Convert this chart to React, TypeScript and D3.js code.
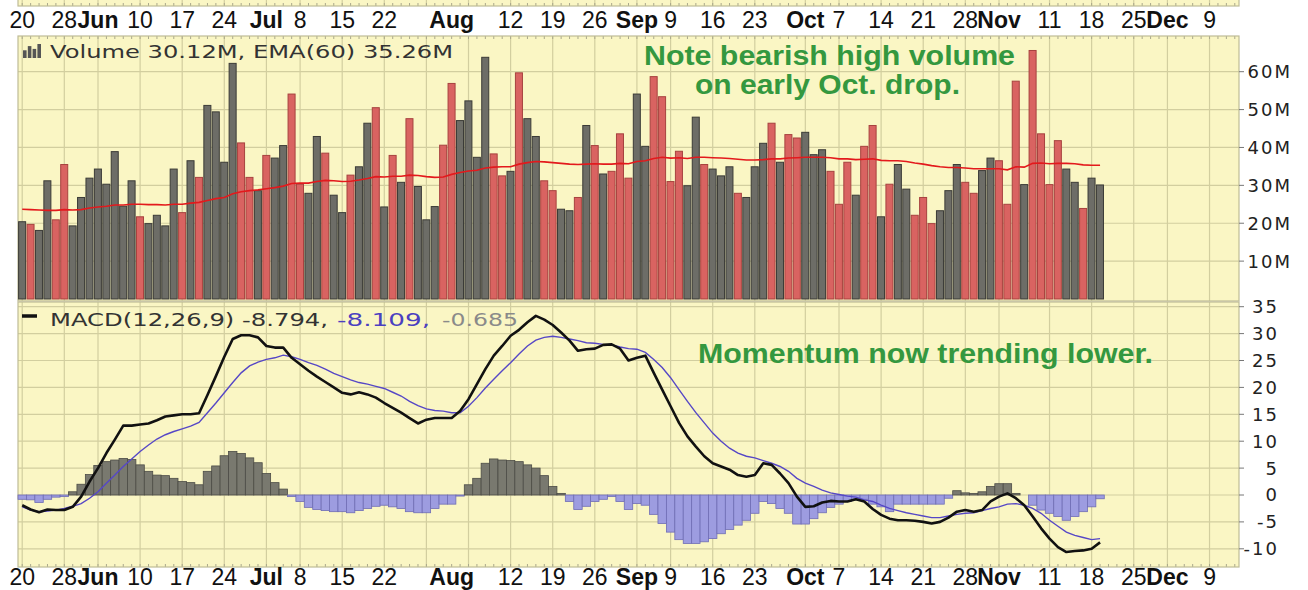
import React, { useEffect, useRef } from 'react';
import * as d3 from 'd3';

// trading calendar (categories)
const firstDay = '2013-05-20';
const lastAxisDay = '2013-12-12';
const holidays = ['2013-05-27', '2013-07-04', '2013-09-02', '2013-11-28'];

// date axis labels
const tickDates = [
  '2013-05-20', '2013-05-28', '2013-06-03', '2013-06-10', '2013-06-17', '2013-06-24',
  '2013-07-01', '2013-07-08', '2013-07-15', '2013-07-22', '2013-08-01', '2013-08-12',
  '2013-08-19', '2013-08-26', '2013-09-03', '2013-09-09', '2013-09-16', '2013-09-23',
  '2013-10-01', '2013-10-07', '2013-10-14', '2013-10-21', '2013-10-28', '2013-11-01',
  '2013-11-11', '2013-11-18', '2013-11-25', '2013-12-02', '2013-12-09'
];
const tickLabels = [
  '20', '28', 'Jun', '10', '17', '24', 'Jul', '8', '15', '22', 'Aug', '12', '19', '26',
  'Sep', '9', '16', '23', 'Oct', '7', '14', '21', '28', 'Nov', '11', '18', '25', 'Dec', '9'
];
const monthLabels = ['Jun', 'Jul', 'Aug', 'Sep', 'Oct', 'Nov', 'Dec'];
const extraGridDates = ['2013-07-29', '2013-08-05'];

// volume, millions
const volume = [
  20.4, 19.7, 18.1, 31.2, 20.9, 35.5, 19.3, 26.8, 31.9, 34.3,
  30.3, 38.9, 24.5, 31.2, 21.7, 19.9, 22.1, 19.3, 34.3, 22.8,
  36.5, 32.1, 51.1, 49.4, 36.1, 62.2, 41.2, 32.1, 28.6, 37.9,
  37.2, 40.5, 54.1, 30.3, 27.9, 42.9, 38.5, 27.4, 22.8, 32.7,
  34.9, 46.4, 50.5, 24.3, 37.9, 30.8, 47.6, 29.7, 20.9, 24.4,
  40.6, 56.9, 47.1, 52.3, 37.4, 63.8, 38.3, 32.5, 33.7, 59.7,
  47.6, 42.9, 31.2, 28.6, 23.7, 23.3, 26.8, 45.8, 40.5, 33.0,
  33.7, 43.6, 31.9, 54.1, 40.3, 58.7, 53.4, 31.0, 39.0, 29.9,
  48.0, 35.5, 34.3, 32.5, 34.9, 27.9, 26.8, 34.9, 41.1, 46.4,
  36.1, 43.4, 42.5, 44.0, 38.1, 39.4, 33.7, 25.0, 36.1, 27.4,
  40.3, 45.8, 21.7, 30.3, 35.5, 29.0, 22.1, 26.8, 19.9, 23.3,
  28.6, 35.5, 30.8, 27.9, 33.9, 37.2, 36.5, 25.0, 57.5, 30.2,
  65.6, 43.6, 30.2, 41.8, 34.3, 30.8, 23.9, 31.9, 30.1
];
// 1 = down day (red bar), 0 = up day (grey bar)
const volumeDown = [
  0, 1, 0, 0, 1, 1, 0, 0, 0, 0,
  0, 0, 0, 0, 1, 0, 0, 0, 0, 1,
  0, 1, 0, 0, 0, 0, 1, 1, 0, 1,
  0, 0, 1, 1, 0, 0, 1, 0, 0, 1,
  0, 0, 1, 0, 1, 0, 1, 0, 0, 0,
  1, 1, 0, 0, 0, 0, 1, 1, 0, 1,
  0, 0, 1, 1, 0, 0, 1, 0, 1, 0,
  1, 1, 1, 0, 0, 1, 1, 1, 1, 0,
  0, 1, 0, 0, 0, 1, 0, 0, 0, 1,
  0, 1, 1, 0, 0, 0, 1, 1, 1, 0,
  1, 1, 0, 1, 0, 0, 1, 1, 1, 0,
  0, 0, 1, 1, 0, 0, 1, 1, 1, 0,
  1, 1, 1, 1, 0, 0, 1, 0, 0
];
const volumeEma = [
  23.7, 23.6, 23.5, 23.4, 23.4, 23.6, 23.5, 23.6, 24.0, 24.3,
  24.5, 24.8, 24.8, 25.0, 25.0, 24.9, 24.9, 24.8, 25.0, 25.0,
  25.3, 25.5, 26.0, 26.5, 26.8, 27.8, 28.3, 28.6, 28.8, 29.1,
  29.4, 29.8, 30.5, 30.6, 30.6, 31.0, 31.3, 31.2, 31.0, 31.1,
  31.4, 31.8, 32.3, 32.2, 32.4, 32.4, 32.7, 32.6, 32.3, 32.1,
  32.2, 32.9, 33.4, 33.8, 34.0, 34.6, 34.8, 34.9, 34.9, 35.6,
  36.0, 36.3, 36.2, 36.0, 35.8, 35.6, 35.5, 35.6, 35.7, 35.6,
  35.6, 35.8, 35.7, 36.3, 36.5, 37.1, 37.4, 37.2, 37.3, 37.1,
  37.4, 37.4, 37.3, 37.2, 37.1, 36.9, 36.7, 36.7, 36.8, 37.0,
  37.0, 37.2, 37.3, 37.4, 37.4, 37.4, 37.3, 37.0, 37.0, 36.8,
  36.9, 37.0, 36.6, 36.5, 36.5, 36.3, 35.9, 35.6, 35.2, 34.9,
  34.7, 34.7, 34.6, 34.4, 34.4, 34.4, 34.4, 34.1, 34.9, 34.8,
  35.8, 35.9, 35.7, 35.8, 35.8, 35.7, 35.4, 35.3, 35.3
];

// MACD(12,26,9)
const macdLine = [
  -1.9, -2.7, -3.2, -2.7, -2.8, -2.8, -2.2, -0.3, 2.5, 5.0,
  7.8, 10.3, 12.9, 12.9, 13.1, 13.3, 13.9, 14.6, 14.8, 15.0,
  15.0, 15.2, 18.6, 22.1, 25.7, 29.0, 29.7, 29.7, 29.3, 27.7,
  27.4, 27.4, 25.5, 24.3, 23.1, 22.0, 21.0, 20.0, 19.0, 18.7,
  19.1, 18.7, 18.1, 17.1, 16.2, 15.3, 14.3, 13.3, 14.0, 14.3,
  14.3, 14.3, 15.6, 17.8, 20.6, 23.4, 25.9, 27.7, 29.6, 30.7,
  32.1, 33.3, 32.6, 31.6, 30.2, 28.7, 26.8, 27.1, 27.2, 27.9,
  28.0, 27.2, 25.0, 25.5, 25.9, 22.7, 19.6, 16.5, 13.4, 10.9,
  9.0, 7.2, 5.9, 5.3, 4.7, 3.7, 3.4, 3.7, 5.9, 5.6,
  4.0, 2.2, -0.3, -2.2, -2.1, -1.4, -1.1, -1.2, -1.2, -0.8,
  -1.2, -2.6, -3.7, -4.4, -4.7, -4.7, -4.8, -5.0, -5.3, -5.0,
  -4.2, -3.1, -2.8, -3.1, -2.8, -1.2, -0.3, 0.3, -0.6, -1.9,
  -4.0, -6.2, -8.1, -9.7, -10.6, -10.4, -10.3, -10.0, -8.8
];
const signalLine = [
  -2.2, -2.8, -3.1, -3.0, -2.8, -2.5, -2.1, -1.6, -0.6, 0.6,
  2.2, 3.7, 5.3, 6.7, 8.1, 9.3, 10.4, 11.2, 11.8, 12.3,
  12.8, 13.5, 15.3, 17.1, 19.0, 20.9, 22.7, 24.0, 24.7, 25.2,
  25.5, 26.0, 25.7, 25.2, 24.6, 24.1, 23.4, 22.6, 22.0, 21.4,
  20.9, 20.6, 20.2, 19.8, 19.1, 18.4, 17.4, 16.6, 16.0, 15.7,
  15.6, 15.3, 15.3, 16.5, 18.1, 19.9, 21.5, 23.1, 24.6, 26.2,
  27.7, 28.8, 29.3, 29.5, 29.3, 29.0, 28.7, 28.3, 28.2, 28.0,
  27.9, 27.5, 27.2, 27.1, 26.5, 25.2, 23.7, 21.8, 19.6, 17.4,
  15.3, 13.4, 11.5, 10.0, 8.7, 7.8, 7.2, 6.9, 6.4, 5.9,
  5.3, 4.4, 3.1, 2.2, 1.6, 0.9, 0.4, 0.1, -0.2, -0.4,
  -0.9, -1.2, -1.9, -2.5, -2.9, -3.3, -3.6, -3.9, -4.2, -4.2,
  -3.9, -3.6, -3.4, -3.3, -2.9, -2.5, -2.2, -1.7, -1.6, -1.9,
  -2.5, -3.4, -4.7, -5.8, -6.9, -7.5, -7.9, -8.3, -8.1
];
const histogram = [
  -0.8, -0.9, -1.4, -0.8, -0.4, -0.3, 0.6, 2.0, 3.8, 5.5,
  6.2, 6.5, 6.8, 6.6, 5.6, 4.4, 3.7, 3.6, 3.1, 2.5,
  2.3, 1.9, 4.4, 5.4, 7.3, 8.1, 7.7, 6.9, 6.0, 4.0,
  2.3, 1.1, -0.3, -1.2, -2.3, -2.7, -2.9, -3.1, -3.1, -3.3,
  -2.9, -2.5, -2.1, -1.9, -2.2, -2.5, -3.1, -3.3, -3.3, -2.5,
  -1.7, -1.7, -0.2, 1.9, 3.1, 5.9, 6.7, 6.5, 6.4, 6.2,
  5.6, 5.0, 3.6, 1.6, 0.3, -1.2, -2.7, -2.1, -1.2, -0.8,
  -0.3, -1.2, -2.7, -1.6, -1.9, -3.6, -5.3, -6.9, -8.3, -9.0,
  -9.0, -8.7, -8.1, -7.2, -6.4, -5.6, -4.7, -3.4, -1.2, -1.6,
  -2.5, -3.4, -5.4, -5.4, -4.4, -3.3, -2.3, -1.7, -1.2, -0.9,
  -0.8, -1.7, -2.2, -3.1, -1.7, -1.7, -1.7, -1.7, -1.7, -1.7,
  -0.6, 0.8, 0.4, 0.3, 0.6, 1.6, 2.1, 2.1, 0.3, 0.0,
  -1.9, -2.8, -3.4, -4.0, -4.7, -4.0, -3.1, -2.2, -0.7
];

const volumeTicks = [10, 20, 30, 40, 50, 60];
const macdTicks = [-10, -5, 0, 5, 10, 15, 20, 25, 30, 35];
const volumeIcon = [0.55, 0.85, 0.65, 1];

const BG = '#faf6c4';
const GRID = '#d2ce9f';
const BORDER = '#bebc97';
const GREEN = '#34983f';

export default function App() {
  const ref = useRef<SVGSVGElement>(null);

  useEffect(() => {
    const svg = d3.select(ref.current);
    svg.selectAll('*').remove();

    const left = 18;
    const right = 1239;
    const volTop = 36;
    const volBottom = 301;
    const macdTop = 302;
    const macdBottom = 567;

    const fmt = d3.timeFormat('%Y-%m-%d');
    const parse = d3.timeParse('%Y-%m-%d');
    const days = d3.timeDay
      .range(parse(firstDay), d3.timeDay.offset(parse(lastAxisDay), 1))
      .filter(d => d.getDay() % 6 !== 0 && !holidays.includes(fmt(d)))
      .map(fmt);
    const dataDays = days.slice(0, volume.length);

    const x = d3.scaleBand().domain(days).range([left, right]);
    const bw = x.bandwidth();
    const cx = (d: string) => (x(d) as number) + bw / 2;

    const yVol = d3.scaleLinear().domain([0, 60]).range([299, 71.7]);
    const yMacd = d3.scaleLinear().domain([0, 35]).range([495, 306.7]);

    svg.append('rect').attr('width', 1308).attr('height', 590).attr('fill', '#fff');

    // panels (plus the bottom edge of the price panel above)
    const panels = [
      [-4, 6],
      [volTop, volBottom],
      [macdTop, macdBottom]
    ];
    svg.selectAll('rect.panel')
      .data(panels)
      .enter()
      .append('rect')
      .attr('class', 'panel')
      .attr('x', left)
      .attr('y', d => d[0])
      .attr('width', right - left)
      .attr('height', d => d[1] - d[0])
      .attr('fill', BG);

    // vertical grid
    const gridDates = tickDates.filter((d, i) => tickLabels[i] !== 'Aug').concat(extraGridDates);
    panels.forEach(p => {
      svg.append('g')
        .selectAll('line')
        .data(gridDates)
        .enter()
        .append('line')
        .attr('x1', d => cx(d))
        .attr('x2', d => cx(d))
        .attr('y1', p[0])
        .attr('y2', p[1])
        .attr('stroke', GRID)
        .attr('stroke-width', 1.2);
    });

    // horizontal grid
    svg.append('g')
      .selectAll('line')
      .data(volumeTicks)
      .enter()
      .append('line')
      .attr('x1', left)
      .attr('x2', right)
      .attr('y1', d => yVol(d))
      .attr('y2', d => yVol(d))
      .attr('stroke', GRID)
      .attr('stroke-width', 1.2);
    svg.append('g')
      .selectAll('line')
      .data(macdTicks)
      .enter()
      .append('line')
      .attr('x1', left)
      .attr('x2', right)
      .attr('y1', d => yMacd(d))
      .attr('y2', d => yMacd(d))
      .attr('stroke', GRID)
      .attr('stroke-width', 1.2);

    // small daily ticks along the panel edges
    const edgeTicks = [
      [6, 3],
      [volTop, volTop + 3],
      [macdBottom, macdBottom - 3]
    ];
    edgeTicks.forEach(e => {
      svg.append('g')
        .selectAll('line')
        .data(days)
        .enter()
        .append('line')
        .attr('x1', d => cx(d))
        .attr('x2', d => cx(d))
        .attr('y1', e[0])
        .attr('y2', e[1])
        .attr('stroke', '#a9a78c')
        .attr('stroke-width', 1);
    });

    // panel borders
    svg.selectAll('rect.border')
      .data(panels)
      .enter()
      .append('rect')
      .attr('class', 'border')
      .attr('x', left)
      .attr('y', d => d[0])
      .attr('width', right - left)
      .attr('height', d => d[1] - d[0])
      .attr('fill', 'none')
      .attr('stroke', BORDER)
      .attr('stroke-width', 1.2);

    // volume bars
    svg.append('g')
      .selectAll('rect')
      .data(dataDays)
      .enter()
      .append('rect')
      .attr('x', d => (x(d) as number) + 0.6)
      .attr('width', bw - 1.4)
      .attr('y', (d, i) => yVol(volume[i]))
      .attr('height', (d, i) => yVol(0) - yVol(volume[i]))
      .attr('fill', (d, i) => (volumeDown[i] ? '#d96361' : '#6d6d67'))
      .attr('stroke', (d, i) => (volumeDown[i] ? '#a7423f' : '#3b3b37'))
      .attr('stroke-width', 1);

    const emaLine = d3.line<string>()
      .x(d => cx(d))
      .y((d, i) => yVol(volumeEma[i]));
    svg.append('path')
      .attr('d', emaLine(dataDays))
      .attr('fill', 'none')
      .attr('stroke', '#e3191c')
      .attr('stroke-width', 1.6);

    // MACD histogram
    svg.append('g')
      .selectAll('rect')
      .data(dataDays)
      .enter()
      .append('rect')
      .attr('x', d => x(d) as number)
      .attr('width', bw)
      .attr('y', (d, i) => Math.min(yMacd(histogram[i]), yMacd(0)))
      .attr('height', (d, i) => Math.abs(yMacd(histogram[i]) - yMacd(0)))
      .attr('fill', (d, i) => (histogram[i] >= 0 ? '#79796f' : '#9d9ce0'))
      .attr('stroke', (d, i) => (histogram[i] >= 0 ? '#4c4c46' : '#6f6db5'))
      .attr('stroke-width', 0.8);

    const sigPath = d3.line<string>()
      .x(d => cx(d))
      .y((d, i) => yMacd(signalLine[i]));
    svg.append('path')
      .attr('d', sigPath(dataDays))
      .attr('fill', 'none')
      .attr('stroke', '#5647c6')
      .attr('stroke-width', 1.4);

    const macdPath = d3.line<string>()
      .x(d => cx(d))
      .y((d, i) => yMacd(macdLine[i]));
    svg.append('path')
      .attr('d', macdPath(dataDays))
      .attr('fill', 'none')
      .attr('stroke', '#111')
      .attr('stroke-width', 2.6)
      .attr('stroke-linejoin', 'round');

    // date labels, top and bottom
    [28, 585].forEach(base => {
      svg.append('g')
        .selectAll('text')
        .data(tickDates)
        .enter()
        .append('text')
        .attr('x', d => cx(d))
        .attr('y', base)
        .attr('text-anchor', 'middle')
        .style('font-family', '"Liberation Sans", Arial, sans-serif')
        .style('font-size', '23px')
        .style('font-weight', (d, i) => (monthLabels.includes(tickLabels[i]) ? 'bold' : 'normal'))
        .style('fill', '#111')
        .text((d, i) => tickLabels[i]);
    });

    // right axes
    svg.append('g')
      .selectAll('line')
      .data(volumeTicks)
      .enter()
      .append('line')
      .attr('x1', right)
      .attr('x2', right + 5)
      .attr('y1', d => yVol(d))
      .attr('y2', d => yVol(d))
      .attr('stroke', '#777');
    svg.append('g')
      .selectAll('text')
      .data(volumeTicks)
      .enter()
      .append('text')
      .attr('x', 1292)
      .attr('y', d => yVol(d))
      .attr('dy', '0.36em')
      .attr('text-anchor', 'end')
      .style('font-family', '"DejaVu Sans", Verdana, sans-serif')
      .style('font-size', '18px')
      .style('letter-spacing', '2px')
      .style('fill', '#222')
      .text(d => `${d}M`);
    svg.append('g')
      .selectAll('line')
      .data(macdTicks)
      .enter()
      .append('line')
      .attr('x1', right)
      .attr('x2', right + 5)
      .attr('y1', d => yMacd(d))
      .attr('y2', d => yMacd(d))
      .attr('stroke', '#777');
    svg.append('g')
      .selectAll('text')
      .data(macdTicks)
      .enter()
      .append('text')
      .attr('x', 1279)
      .attr('y', d => yMacd(d))
      .attr('dy', '0.36em')
      .attr('text-anchor', 'end')
      .style('font-family', '"DejaVu Sans", Verdana, sans-serif')
      .style('font-size', '18px')
      .style('letter-spacing', '2px')
      .style('fill', '#222')
      .text(d => `${d}`);

    // legends
    const iconX = d3.scaleBand<number>().domain(d3.range(volumeIcon.length)).range([23, 41]).paddingInner(0.25);
    svg.append('g')
      .selectAll('rect')
      .data(volumeIcon)
      .enter()
      .append('rect')
      .attr('x', (d, i) => iconX(i) as number)
      .attr('width', iconX.bandwidth())
      .attr('y', d => 58 - d * 14)
      .attr('height', d => d * 14)
      .attr('fill', '#555');

    const legendFont = '"DejaVu Sans", Verdana, sans-serif';
    const legend = (txt: string, lx: number, ly: number, len: number, color: string) =>
      svg.append('text')
        .attr('x', lx)
        .attr('y', ly)
        .attr('textLength', len)
        .attr('lengthAdjust', 'spacingAndGlyphs')
        .style('font-family', legendFont)
        .style('font-size', '18px')
        .style('fill', color)
        .text(txt);
    legend('Volume 30.12M, EMA(60) 35.26M', 50, 58, 403, '#333');
    svg.append('line')
      .attr('x1', 22).attr('x2', 37)
      .attr('y1', 316).attr('y2', 316)
      .attr('stroke', '#111').attr('stroke-width', 3.5);
    legend('MACD(12,26,9) -8.794,', 50, 326, 278, '#333');
    legend('-8.109,', 337, 326, 93, '#4b3fc0');
    legend('-0.685', 442, 326, 76, '#8a8a8a');

    // annotations
    const note = (txt: string, nx: number, ny: number, len: number) =>
      svg.append('text')
        .attr('x', nx)
        .attr('y', ny)
        .attr('textLength', len)
        .attr('lengthAdjust', 'spacingAndGlyphs')
        .style('font-family', '"Liberation Sans", Arial, sans-serif')
        .style('font-size', '28px')
        .style('font-weight', 'bold')
        .style('fill', GREEN)
        .text(txt);
    note('Note bearish high volume', 644, 65, 371);
    note('on early Oct. drop.', 695, 94, 265);
    note('Momentum now trending lower.', 698, 363, 455);
  }, []);

  return (
    <svg
      ref={ref}
      width={1308}
      height={590}
      style={{ position: 'absolute', left: 0, top: 0, display: 'block' }}
    />
  );
}
